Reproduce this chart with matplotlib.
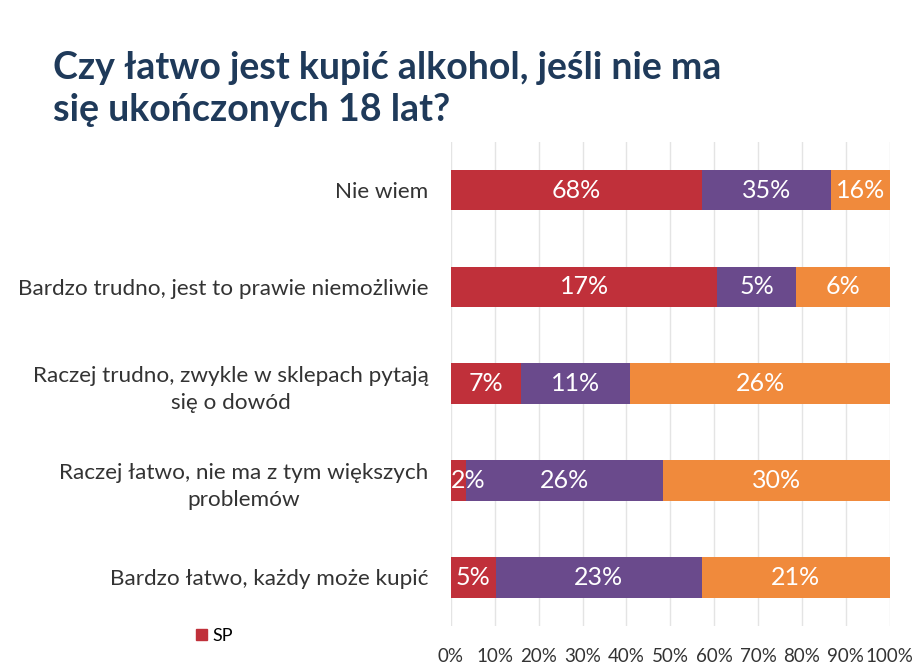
import numpy as np
import matplotlib
matplotlib.use('Agg')
import matplotlib.pyplot as plt
from matplotlib.patches import Patch

plt.rcParams['font.family'] = ['Lato', 'DejaVu Sans']

categories = ["Nie wiem",
              "Bardzo trudno, jest to prawie niemożliwie",
              "Raczej trudno, zwykle w sklepach pytają\nsię o dowód",
              "Raczej łatwo, nie ma z tym większych\nproblemów",
              "Bardzo łatwo, każdy może kupić"]
series_names = ["SP", "GIM", "PG"]
sp = [68, 17, 7, 2, 5]
gim = [35, 5, 11, 26, 23]
pg = [16, 6, 26, 30, 21]
tick_labels = ["0%", "10%", "20%", "30%", "40%", "50%", "60%", "70%", "80%", "90%", "100%"]

colors = ['#C0303A', '#6A4A8C', '#F08A3C']
title_color = '#1F3A5A'

data = np.array([sp, gim, pg], dtype=float)
totals = data.sum(axis=0)
shares = data / totals

fig = plt.figure(figsize=(9.22, 6.68), dpi=100)
ax = fig.add_axes([0.489, 0.063, 0.476, 0.725])

y = np.arange(len(categories))
left = np.zeros(len(categories))
for k in range(3):
    ax.barh(y, shares[k], left=left, height=0.42, color=colors[k], label=series_names[k], zorder=3)
    for i in range(len(categories)):
        if shares[k][i] < 0.05:
            # too narrow to center: start the label at the segment edge
            ax.text(left[i], y[i], "%d%%" % data[k][i], ha='left', va='center',
                    color='white', fontsize=18, zorder=4)
        else:
            ax.text(left[i] + shares[k][i] / 2, y[i], "%d%%" % data[k][i], ha='center', va='center',
                    color='white', fontsize=18, zorder=4)
    left += shares[k]

ax.set_ylim(len(categories) - 0.5, -0.5)
ax.set_xlim(0, 1)
ax.set_xticks(np.linspace(0, 1, 11))
ax.set_xticklabels(tick_labels, fontsize=13.5, color='#333333')
ax.set_yticks(y)
ax.set_yticklabels(categories, fontsize=16.2, color='#333333', multialignment='center', linespacing=1.45)
ax.tick_params(axis='both', length=0)
ax.tick_params(axis='x', pad=16)
ax.tick_params(axis='y', pad=16)
ax.grid(axis='x', color='#E4E4E4', linewidth=1, zorder=0)
for s in ax.spines.values():
    s.set_visible(False)

fig.text(0.058, 0.867, "Czy łatwo jest kupić alkohol, jeśli nie ma\nsię ukończonych 18 lat?",
         fontsize=27, fontweight='bold', color=title_color, va='center', linespacing=1.3)

fig.legend(handles=[Patch(color=colors[0])], labels=["SP"], loc='center left',
           bbox_to_anchor=(0.195, 0.048), frameon=False, fontsize=13,
           handlelength=0.6, handleheight=0.6, handletextpad=0.3)

fig.savefig("out.png", dpi=100)
